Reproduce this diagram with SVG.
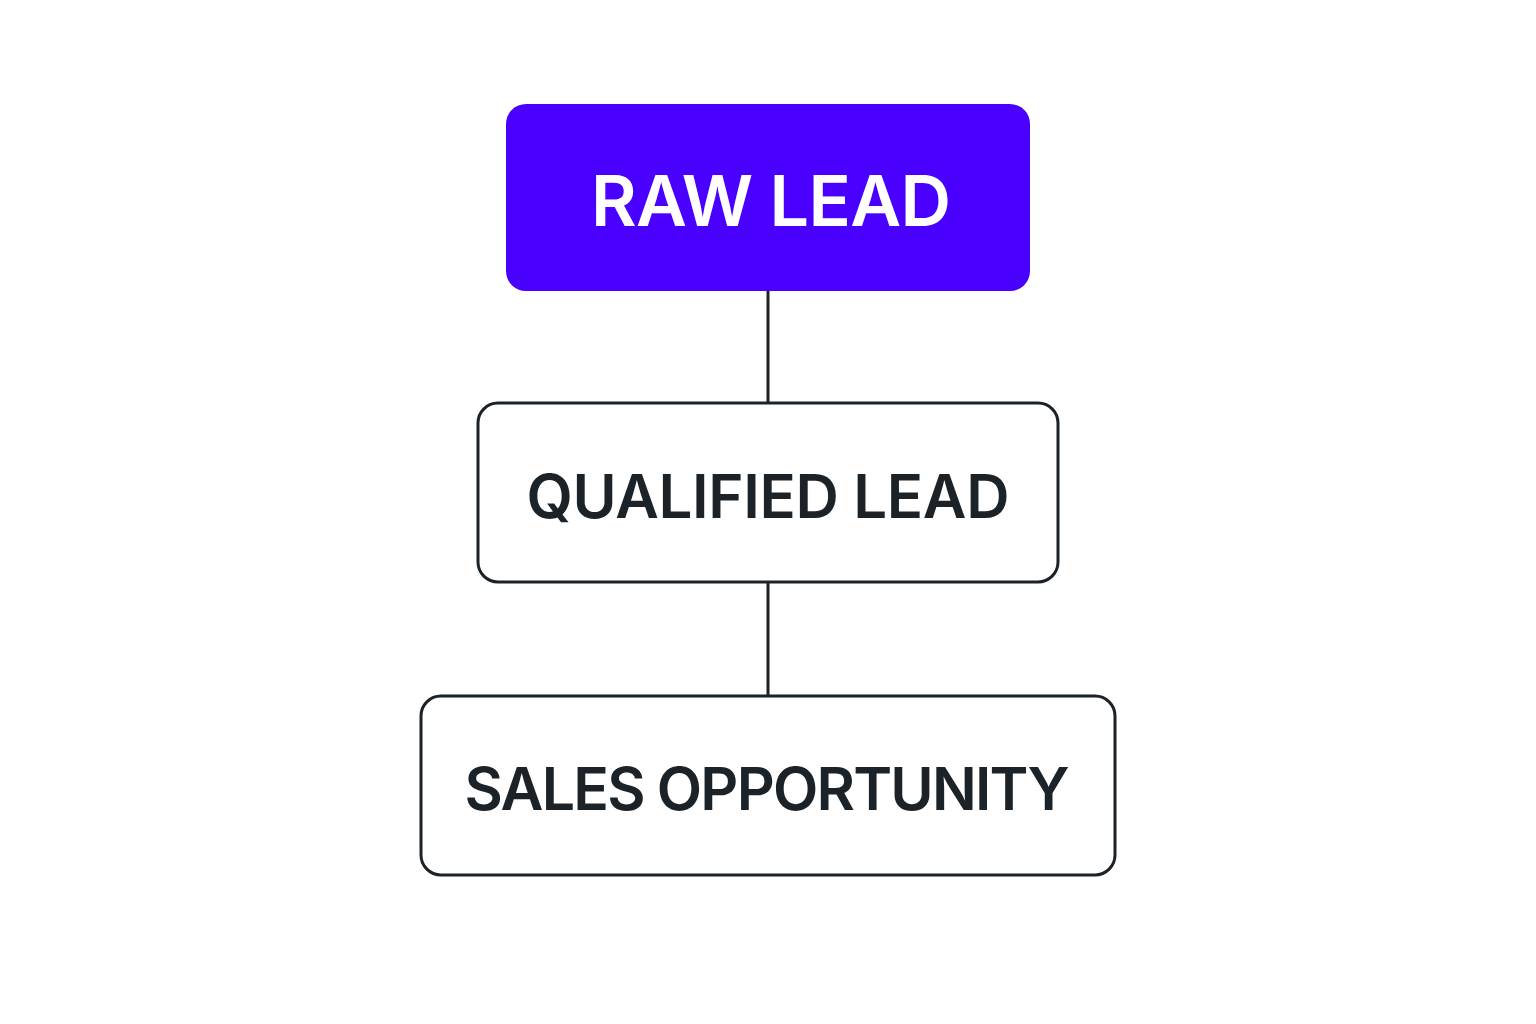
<svg xmlns="http://www.w3.org/2000/svg" width="1536" height="1024" viewBox="0 0 1536 1024">
<style>
.box{fill:#ffffff;stroke:#1b2228;stroke-width:3}
.lbl{font-family:Inter,"Noto Sans","Liberation Sans",sans-serif;font-weight:600;text-anchor:middle}
.dark{fill:#1b2228}
.conn{stroke:#1b2228;stroke-width:3;fill:none}
</style>
<rect width="1536" height="1024" fill="#ffffff"/>
<g id="connectors">
<line class="conn" x1="768" y1="291" x2="768" y2="403"/>
<line class="conn" x1="768" y1="582" x2="768" y2="696"/>
</g>
<g id="raw-lead">
<rect x="506" y="104" width="524" height="187" rx="20" fill="#4A00FF"/>
<text class="lbl" x="771" y="226" font-size="70" fill="#ffffff" textLength="360" lengthAdjust="spacing">RAW LEAD</text>
</g>
<g id="qualified-lead">
<rect class="box" x="478" y="403" width="580" height="179" rx="20"/>
<text class="lbl dark" x="768" y="518" font-size="60" textLength="483" lengthAdjust="spacing">QUALIFIED LEAD</text>
</g>
<g id="sales-opportunity">
<rect class="box" x="421" y="696" width="694" height="179" rx="20"/>
<text class="lbl dark" x="767" y="810" font-size="59" textLength="605" lengthAdjust="spacing">SALES OPPORTUNITY</text>
</g>
</svg>
